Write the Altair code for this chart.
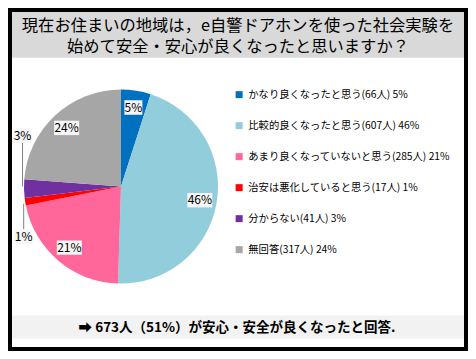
import altair as alt
import pandas as pd
import numpy as np

# ---- data ----
categories = ["かなり良くなったと思う", "比較的良くなったと思う", "あまり良くなっていないと思う",
              "治安は悪化していると思う", "分からない", "無回答"]
counts = [66, 607, 285, 17, 41, 317]
percents = [5, 46, 21, 1, 3, 24]
colors = ["#0070c0", "#92cddc", "#ff6699", "#ff0000", "#7030a0", "#a6a6a6"]
title_lines = ["現在お住まいの地域は，e自警ドアホンを使った社会実験を",
               "始めて安全・安心が良くなったと思いますか？"]
summary_text = "➡  673人（51%）が安心・安全が良くなったと回答."
outside_offsets = {"治安は悪化していると思う": 35, "分からない": -53}

# ---- layout ----
W, H = 460, 343
FONT = "Noto Sans CJK JP"
CX, CY, R = 113.0, 178.6, 97.0
LABEL_R = 80.0

df = pd.DataFrame({"category": categories, "count": counts, "pct": percents, "idx": range(len(categories))})
df["label"] = [f"{c}({n}人) {p}%" for c, n, p in zip(categories, counts, percents)]
df["pct_text"] = [f"{p}%" for p in percents]
total = float(sum(counts))
cum = np.cumsum(counts)
start = cum - np.array(counts)
mid = (start + np.array(counts) / 2.0) / total * 2 * np.pi

lx, ly, r1, r2 = [], [], [], []
for cat, a in zip(categories, mid):
    if cat in outside_offsets:
        ex = CX + R * np.sin(a)
        ey = CY - R * np.cos(a)
        off = outside_offsets[cat]
        lx.append(ex - 1.5)
        ly.append(ey + off)
        if off < 0:
            r1.append(ey + off + 7.5); r2.append(ey - 2)
        else:
            r1.append(ey + off - 7.5); r2.append(ey + 2)
    else:
        lx.append(CX + LABEL_R * np.sin(a))
        ly.append(CY - LABEL_R * np.cos(a))
        r1.append(np.nan); r2.append(np.nan)
df["lx"] = lx
df["ly"] = ly
df["ry1"] = r1
df["ry2"] = r2
bw = np.array([7.0 * len(t) + 4 for t in df["pct_text"]])
df["bx1"] = df["lx"] - bw / 2
df["bx2"] = df["lx"] + bw / 2
df["by1"] = df["ly"] - 7.2
df["by2"] = df["ly"] + 7.2

base = alt.Chart(pd.DataFrame({"k": [0]}))

frame = base.mark_rect(fill="white", stroke="black", strokeWidth=4).encode(
    x=alt.value(2), x2=alt.value(W - 2), y=alt.value(2), y2=alt.value(H - 2))
title_band = base.mark_rect(fill="#d9d9d9").encode(
    x=alt.value(4), x2=alt.value(W - 4), y=alt.value(4), y2=alt.value(49.7))
title = base.mark_text(font=FONT, fontSize=16.3, color="#000000", align="center",
                       baseline="middle", lineHeight=21).encode(
    x=alt.value(W / 2), y=alt.value(18.3), text=alt.value(title_lines))

arcs = alt.Chart(df).mark_arc(outerRadius=R).encode(
    theta=alt.Theta("count:Q", stack=True),
    order=alt.Order("idx:Q"),
    color=alt.Color("label:N", scale=alt.Scale(domain=list(df["label"]), range=colors),
                    legend=alt.Legend(title=None, orient="none", legendX=226, legendY=81.5,
                                      symbolType="square", symbolSize=49, symbolStrokeWidth=0,
                                      labelFont=FONT, labelFontSize=10.3, labelColor="#000000",
                                      labelOffset=4, rowPadding=20, padding=0, labelLimit=260)),
    x=alt.value(CX), y=alt.value(CY))

boxes = alt.Chart(df).mark_rect(fill="#f6f6f6").encode(
    x=alt.X("bx1:Q", scale=None, axis=None), x2="bx2:Q",
    y=alt.Y("by1:Q", scale=None, axis=None), y2="by2:Q")
pct_labels = alt.Chart(df).mark_text(font=FONT, fontSize=12, color="#000000", align="center",
                                     baseline="middle").encode(
    x=alt.X("lx:Q", scale=None, axis=None), y=alt.Y("ly:Q", scale=None, axis=None), text="pct_text:N")
leaders = alt.Chart(df).transform_filter("isValid(datum.ry1)").mark_rule(color="#808080", strokeWidth=1).encode(
    x=alt.X("lx:Q", scale=None, axis=None), y=alt.Y("ry1:Q", scale=None, axis=None), y2="ry2:Q")

bottom_band = base.mark_rect(fill="#f2f2f2").encode(
    x=alt.value(4), x2=alt.value(W - 4), y=alt.value(307.6), y2=alt.value(330.5))
bottom_text = base.mark_text(font=FONT, fontSize=13.5, fontWeight="bold", color="#000000",
                             align="center", baseline="middle").encode(
    x=alt.value(229), y=alt.value(319.5), text=alt.value(summary_text))

chart = alt.layer(frame, title_band, title, arcs, leaders, boxes, pct_labels,
                  bottom_band, bottom_text).properties(
    width=W, height=H, padding=0, autosize="none", background="white"
).configure_view(stroke=None)

chart.save("out.html", embed_options={"renderer": "svg", "actions": False})
